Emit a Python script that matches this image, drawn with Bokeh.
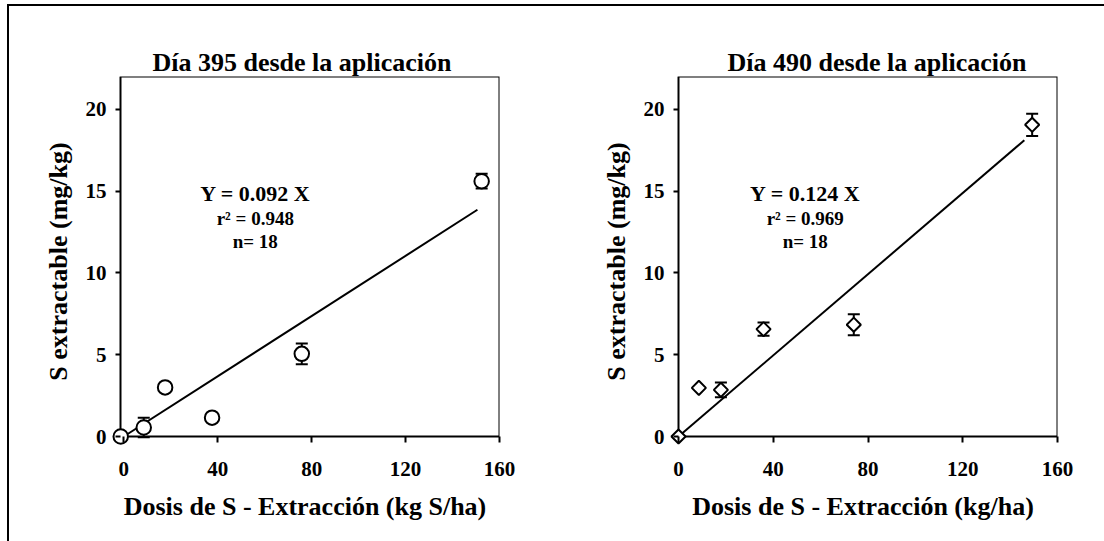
import math

from bokeh.embed import file_html
from bokeh.layouts import row
from bokeh.models import ColumnDataSource, FixedTicker, Label, Range1d, TeeHead, Whisker
from bokeh.plotting import figure
from bokeh.resources import INLINE

FONT = "Liberation Serif"

# Día 395 desde la aplicación
dose_395 = [-1.3, 8.5, 17.6, 37.6, 75.8, 152.4]
s_395 = [0.0, 0.55, 3.0, 1.15, 5.05, 15.6]
err_395 = [0.0, 0.6, 0.0, 0.0, 0.63, 0.45]
slope_395 = 0.092
r2_395 = 0.948
fit_end_395 = 150.6

# Día 490 desde la aplicación
dose_490 = [0.0, 8.6, 17.9, 35.9, 74.0, 149.3]
s_490 = [0.0, 2.97, 2.85, 6.56, 6.83, 19.05]
err_490 = [0.0, 0.0, 0.45, 0.4, 0.64, 0.68]
slope_490 = 0.124
r2_490 = 0.969
fit_end_490 = 146.0

n_obs = 18

x_ticks = [0, 40, 80, 120, 160]
y_ticks = [0, 5, 10, 15, 20]

X_MAX = 160
Y_MAX = 22

# Axes box size in pixels. The frame is PAD pixels wider on the left and
# taller at the bottom so that markers sitting on the origin are drawn whole;
# the axis ticks are pulled inward by the same amount to sit on the box.
BOX_W, BOX_H = 379, 360
PAD = 10
FIG_H = 535
TOP = 70
TICK_Y = 5
TICK_X = 6


def make_panel(title, xlabel, dose, s, err, slope, r2, fit_end, marker,
               size, angle, width, b_left, x_start, title_offset, text_x):
    x_pad = PAD * (X_MAX - x_start) / BOX_W
    y_pad = PAD * Y_MAX / BOX_H
    frame_w = BOX_W + PAD
    frame_h = BOX_H + PAD
    p = figure(
        width=width, height=FIG_H,
        x_range=Range1d(x_start - x_pad, X_MAX), y_range=Range1d(-y_pad, Y_MAX),
        min_border_left=b_left, min_border_right=width - b_left - frame_w,
        min_border_top=TOP, min_border_bottom=FIG_H - TOP - frame_h,
        output_backend="svg", toolbar_location=None,
        background_fill_color="white", border_fill_color="white",
    )
    p.grid.visible = False
    p.outline_line_color = None

    p.title.text = title
    p.title.text_font = FONT
    p.title.text_font_style = "bold"
    p.title.text_font_size = "26px"
    p.title.text_color = "black"
    p.title.align = "left"
    p.title.standoff = 0
    p.title.offset = title_offset

    for ax in (p.xaxis[0], p.yaxis[0]):
        ax.axis_line_color = None
        ax.major_tick_line_width = 2
        ax.minor_tick_line_color = None
        ax.major_tick_in = PAD
        ax.major_label_text_font = FONT
        ax.major_label_text_font_style = "bold"
        ax.major_label_text_font_size = "21px"
        ax.major_label_text_color = "black"
        ax.axis_label_text_font = FONT
        ax.axis_label_text_font_style = "bold"
        ax.axis_label_text_font_size = "26px"
        ax.axis_label_text_color = "black"

    p.xaxis.ticker = FixedTicker(ticks=x_ticks)
    p.xaxis.major_tick_out = TICK_X - PAD
    p.xaxis.major_label_standoff = 15
    p.xaxis.axis_label = xlabel
    p.xaxis.axis_label_standoff = 13

    p.yaxis.ticker = FixedTicker(ticks=y_ticks)
    p.yaxis.major_tick_out = TICK_Y - PAD
    p.yaxis.major_label_standoff = 4
    p.yaxis.axis_label = "S extractable (mg/kg)"
    p.yaxis.axis_label_standoff = 10

    # axes box
    p.line([x_start, x_start, X_MAX, X_MAX, x_start], [0, Y_MAX, Y_MAX, 0, 0],
           line_color="black", line_width=2)

    # fitted line through the origin
    p.line([0, fit_end], [0, slope * fit_end], line_color="black", line_width=2)

    src = ColumnDataSource(dict(
        x=dose, y=s,
        upper=[v + e for v, e in zip(s, err)],
        lower=[v - e for v, e in zip(s, err)],
    ))
    whisk = Whisker(
        source=src, base="x", upper="upper", lower="lower",
        line_color="black", line_width=2, level="underlay",
        upper_head=TeeHead(size=12, line_width=2, line_color="black"),
        lower_head=TeeHead(size=12, line_width=2, line_color="black"),
    )
    p.add_layout(whisk)

    p.scatter("x", "y", source=src, marker=marker, size=size, angle=angle,
              fill_color="white", line_color="black", line_width=2)

    lines = [
        (f"Y = {slope:.3f} X", "22px", 14.86),
        (f"r\u00b2 = {r2:.3f}", "19px", 13.33),
        (f"n= {n_obs}", "19px", 11.92),
    ]
    for txt, fs, ty in lines:
        p.add_layout(Label(
            x=text_x, y=ty, text=txt, text_align="center",
            text_baseline="alphabetic", text_font=FONT,
            text_font_style="bold", text_font_size=fs, text_color="black",
        ))
    return p


p1 = make_panel("Día 395 desde la aplicación",
                "Dosis de S - Extracción (kg S/ha)",
                dose_395, s_395, err_395, slope_395, r2_395, fit_end_395,
                "circle", 14.5, 0.0, 551, 101, -1.4, 42, 56.0)
p2 = make_panel("Día 490 desde la aplicación",
                "Dosis de S - Extracción (kg/ha)",
                dose_490, s_490, err_490, slope_490, r2_490, fit_end_490,
                "square", 10, math.pi / 4, 544, 108, 0, 59, 53.5)

layout = row(p1, p2, styles={
    "border-left": "2px solid black",
    "border-top": "2px solid black",
    "margin-left": "7px",
    "margin-top": "4px",
})

open("out.html", "w").write(file_html(layout, INLINE))
